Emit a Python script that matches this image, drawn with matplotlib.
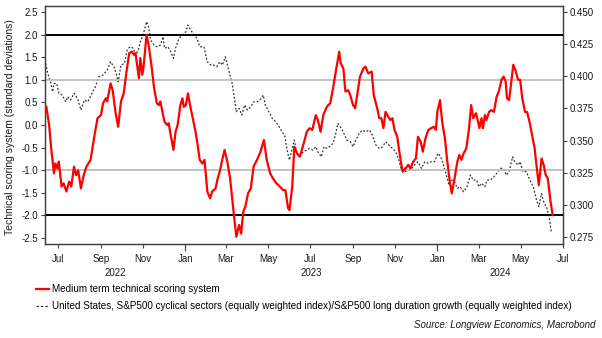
import pandas as pd
import matplotlib.pyplot as plt
import matplotlib.dates as mdates
import matplotlib.transforms as mtransforms
from matplotlib.lines import Line2D

plt.rcParams['font.family'] = ['Liberation Sans', 'DejaVu Sans']
plt.rcParams['axes.unicode_minus'] = False

start = pd.Timestamp('2022-06-12')
end = pd.Timestamp('2024-07-01')

# Medium term technical scoring system: days after start, standard deviations
score_days = [2, 6, 9, 13, 15, 18, 20, 24, 27, 31, 35, 38, 42, 45, 48, 52, 56, 60,
              66, 71, 76, 81, 84, 88, 90, 95, 98, 102, 106, 110, 114, 118, 122, 126,
              129, 131, 136, 138, 141, 143, 147, 150, 154, 158, 162, 165, 167, 170,
              173, 177, 179, 182, 186, 189, 192, 196, 199, 201, 204, 207, 210, 213,
              218, 221, 224, 228, 231, 235, 239, 242, 247, 250, 253, 256, 260, 264,
              268, 271, 274, 277, 281, 284, 287, 290, 294, 298, 302, 307, 312, 317,
              321, 326, 330, 335, 340, 345, 348, 352, 354, 358, 361, 365, 369, 374,
              379, 383, 387, 392, 395, 399, 403, 407, 410, 413, 417, 421, 426, 428,
              432, 435, 439, 442, 446, 449, 452, 456, 461, 464, 468, 473, 476, 481,
              484, 487, 490, 493, 497, 500, 503, 506, 510, 513, 516, 518, 522, 526,
              529, 533, 537, 540, 544, 547, 551, 555, 559, 563, 566, 568, 572, 575,
              579, 582, 586, 589, 593, 597, 600, 603, 606, 610, 614, 617, 620, 624,
              627, 629, 632, 634, 637, 639, 643, 646, 650, 654, 657, 661, 664, 667,
              669, 672, 674, 678, 681, 685, 688, 691, 695, 698, 702, 706, 709, 711,
              715, 719, 722, 725, 728, 732, 735]
score_vals = [0.40, 0.00, -0.52, -1.07, -0.85, -0.96, -0.81, -1.36, -1.29, -1.47,
              -1.25, -1.36, -0.92, -1.11, -1.00, -1.40, -1.11, -0.92, -0.77, -0.29,
              0.15, 0.22, 0.48, 0.59, 0.52, 0.92, 0.77, 0.29, -0.04, 0.52, 0.70,
              1.18, 1.59, 1.62, 1.55, 1.59, 1.03, 1.48, 1.11, 1.33, 1.99, 1.77, 1.33,
              0.81, 0.48, 0.44, 0.52, 0.29, 0.07, 0.00, 0.04, -0.22, -0.55, -0.15,
              0.00, 0.44, 0.59, 0.40, 0.44, 0.70, 0.44, 0.22, -0.15, -0.44, -0.77,
              -0.85, -0.77, -1.47, -1.62, -1.47, -1.40, -1.18, -1.03, -0.81, -0.55,
              -0.81, -1.18, -1.62, -2.06, -2.47, -2.21, -2.40, -1.92, -1.81, -1.51,
              -1.40, -0.92, -0.77, -0.59, -0.33, -0.77, -1.07, -1.18, -1.29, -1.36,
              -1.44, -1.44, -1.84, -1.88, -1.36, -0.48, -0.63, -0.70, -0.44, -0.15,
              -0.07, -0.11, 0.22, 0.11, -0.15, 0.22, 0.37, 0.44, 0.48, 0.81, 1.18,
              1.62, 1.37, 1.25, 0.74, 0.77, 0.66, 0.44, 0.37, 0.66, 1.07, 1.25, 1.29,
              1.14, 1.18, 0.66, 0.37, 0.15, 0.15, -0.07, 0.29, 0.18, 0.11, 0.15,
              -0.11, -0.26, -0.59, -0.88, -1.03, -0.96, -0.88, -0.96, -0.81, -0.74,
              -0.26, -0.37, -0.59, -0.29, -0.11, -0.07, -0.04, -0.11, 0.29, 0.55,
              0.07, -0.29, -0.74, -1.25, -1.51, -1.18, -0.81, -0.66, -0.77, -0.63,
              -0.52, -0.07, 0.44, 0.15, 0.26, 0.07, -0.07, 0.15, -0.07, 0.22, 0.11,
              0.29, 0.33, 0.29, 0.63, 0.74, 1.00, 1.07, 0.96, 0.59, 0.55, 0.81, 1.33,
              1.22, 1.00, 1.00, 0.59, 0.29, 0.29, 0.04, -0.29, -0.52, -0.81, -1.33,
              -0.74, -0.88, -1.11, -1.18, -1.70, -1.99]

# S&P500 cyclicals / long duration growth ratio: days after start, ratio
ratio_days = [1, 4, 8, 11, 13, 17, 20, 25, 30, 33, 37, 42, 47, 52, 57, 62, 68, 73,
              78, 84, 90, 95, 101, 106, 110, 115, 119, 123, 128, 131, 135, 138, 141,
              144, 147, 150, 153, 158, 162, 167, 171, 173, 178, 182, 186, 189, 194,
              199, 204, 207, 211, 216, 220, 224, 230, 235, 240, 244, 249, 253, 257,
              261, 266, 271, 274, 277, 281, 285, 289, 293, 298, 302, 307, 311, 316,
              319, 324, 329, 334, 339, 343, 347, 351, 354, 358, 361, 364, 368, 374,
              379, 383, 388, 392, 395, 400, 404, 408, 412, 417, 421, 424, 429, 434,
              437, 442, 446, 450, 455, 460, 464, 470, 474, 479, 484, 489, 493, 498,
              503, 508, 513, 516, 521, 526, 531, 535, 540, 545, 550, 555, 559, 564,
              569, 573, 577, 581, 585, 589, 593, 597, 601, 606, 611, 616, 620, 625,
              628, 632, 637, 640, 645, 650, 654, 659, 664, 668, 672, 677, 680, 685,
              688, 692, 697, 702, 707, 711, 715, 719, 722, 726, 730, 733]
ratio_vals = [0.4100, 0.4023, 0.3958, 0.3880, 0.3945, 0.3945, 0.3868, 0.3854, 0.3802,
              0.3841, 0.3816, 0.3868, 0.3829, 0.3738, 0.3816, 0.3802, 0.3868, 0.3919,
              0.3997, 0.4010, 0.4049, 0.4113, 0.4062, 0.3958, 0.4088, 0.4100, 0.4204,
              0.4230, 0.4218, 0.4166, 0.4204, 0.4269, 0.4308, 0.4360, 0.4425, 0.4386,
              0.4282, 0.4243, 0.4230, 0.4243, 0.4308, 0.4218, 0.4230, 0.4191, 0.4140,
              0.4218, 0.4295, 0.4321, 0.4347, 0.4399, 0.4360, 0.4321, 0.4295, 0.4230,
              0.4230, 0.4113, 0.4088, 0.4088, 0.4075, 0.4113, 0.4088, 0.4152, 0.4049,
              0.3945, 0.3841, 0.3725, 0.3751, 0.3699, 0.3777, 0.3738, 0.3764, 0.3802,
              0.3802, 0.3816, 0.3854, 0.3777, 0.3725, 0.3673, 0.3647, 0.3608, 0.3569,
              0.3543, 0.3413, 0.3349, 0.3440, 0.3504, 0.3413, 0.3374, 0.3413, 0.3427,
              0.3440, 0.3427, 0.3453, 0.3413, 0.3374, 0.3453, 0.3440, 0.3453, 0.3479,
              0.3557, 0.3634, 0.3595, 0.3543, 0.3504, 0.3491, 0.3453, 0.3504, 0.3557,
              0.3582, 0.3569, 0.3582, 0.3543, 0.3466, 0.3440, 0.3453, 0.3491, 0.3466,
              0.3440, 0.3413, 0.3336, 0.3271, 0.3258, 0.3271, 0.3284, 0.3310, 0.3336,
              0.3284, 0.3336, 0.3323, 0.3336, 0.3336, 0.3401, 0.3374, 0.3310, 0.3232,
              0.3154, 0.3193, 0.3180, 0.3129, 0.3141, 0.3102, 0.3141, 0.3232, 0.3193,
              0.3193, 0.3141, 0.3167, 0.3141, 0.3193, 0.3193, 0.3219, 0.3245, 0.3284,
              0.3284, 0.3232, 0.3258, 0.3374, 0.3336, 0.3310, 0.3336, 0.3258, 0.3258,
              0.3193, 0.3141, 0.3051, 0.2986, 0.3089, 0.3025, 0.2986, 0.2908, 0.2791]

score_dates = start + pd.to_timedelta(score_days, unit='D')
ratio_dates = start + pd.to_timedelta(ratio_days, unit='D')

fig = plt.figure(figsize=(6.02, 3.38), dpi=100)
ax = fig.add_axes([45 / 602, 1 - 244 / 338, 518 / 602, 238 / 338])
ax2 = ax.twinx()
ax.set_zorder(ax2.get_zorder() + 1)
ax.patch.set_visible(False)

# threshold lines
for lvl in (1.0, -1.0):
    ax.axhline(lvl, color='#bdbdbd', lw=1.3, zorder=1)
for lvl in (2.0, -2.0):
    ax.axhline(lvl, color='black', lw=1.4, zorder=1)

ax2.plot(ratio_dates, ratio_vals, color='#333333', lw=0.9, ls=(0, (1.5, 1.5)))
ax.plot(score_dates, score_vals, color='#ff0000', lw=1.6, zorder=3)

ax.set_xlim(start, end)
ax.set_ylim(-2.63, 2.63)
ax2.set_ylim(0.2696, 0.4547)

ax.set_yticks([-2.5, -2.0, -1.5, -1.0, -0.5, 0.0, 0.5, 1.0, 1.5, 2.0, 2.5])
ax.yaxis.set_major_formatter(plt.FormatStrFormatter('%.1f'))
ax2.set_yticks([0.275, 0.300, 0.325, 0.350, 0.375, 0.400, 0.425, 0.450])
ax2.yaxis.set_major_formatter(plt.FormatStrFormatter('%.3f'))

ax.xaxis.set_major_locator(mdates.MonthLocator(bymonth=[1, 3, 5, 7, 9, 11]))
ax.xaxis.set_major_formatter(mdates.DateFormatter('%b'))
ax.xaxis.set_minor_locator(mdates.YearLocator())
ax.xaxis.remove_overlapping_locs = False

for a in (ax, ax2):
    for s in a.spines.values():
        s.set_color('#404040')
        s.set_linewidth(0.9)
ax.tick_params(axis='both', which='major', labelsize=7, colors='#404040',
               labelcolor='#1a1a1a', length=3, width=0.8, pad=2)
ax.tick_params(axis='x', which='major', pad=4)
ax.tick_params(axis='x', which='minor', length=5, width=0.8, colors='#404040')
ax2.tick_params(axis='y', labelsize=7, colors='#404040', labelcolor='#1a1a1a',
                length=3, width=0.8, pad=2)

# year labels centred under the visible part of each year
trans = mtransforms.blended_transform_factory(ax.transData, ax.transAxes)
for yr in (2022, 2023, 2024):
    a = max(pd.Timestamp(f'{yr}-01-01'), start)
    b = min(pd.Timestamp(f'{yr + 1}-01-01'), end)
    mid = a + (b - a) / 2
    ax.text(mid, -29 / 238, str(yr), transform=trans, ha='center', va='center',
            fontsize=7, color='#1a1a1a')

fig.text(10 / 602, 1 - 127 / 338, 'Technical scoring system (standard deviations)',
         rotation=90, ha='center', va='center', fontsize=7.5, color='#1a1a1a')

handles = [Line2D([], [], color='#ff0000', lw=1.6),
           Line2D([], [], color='#333333', lw=0.9, ls=(0, (2, 1.5)))]
labels = ['Medium term technical scoring system',
          'United States, S&P500 cyclical sectors (equally weighted index)/'
          'S&P500 long duration growth (equally weighted index)']
fig.legend(handles, labels, loc='upper left', bbox_to_anchor=(36 / 602, 1 - 284 / 338),
           frameon=False, fontsize=7.1, handlelength=1.3, handletextpad=0.3,
           labelspacing=0.75, borderaxespad=0, borderpad=0)

fig.text(595 / 602, 1 - 325 / 338, 'Source: Longview Economics, Macrobond',
         ha='right', va='center', fontsize=7, style='italic', color='#1a1a1a')

fig.savefig('out.png', dpi=100)
